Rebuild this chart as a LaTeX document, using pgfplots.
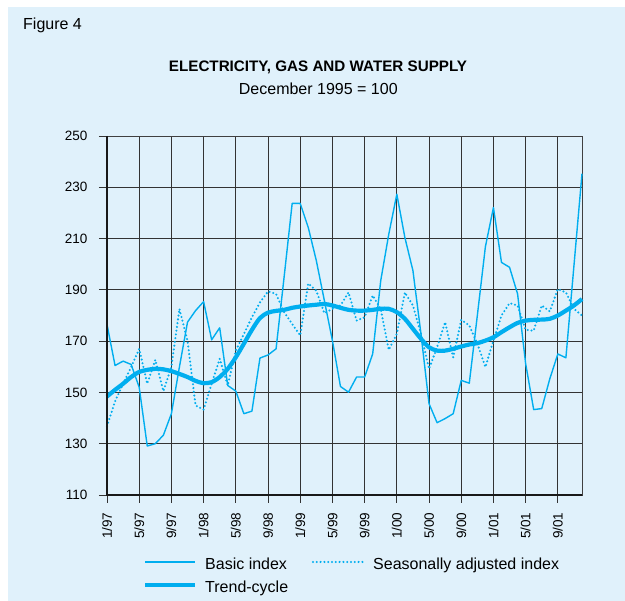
\documentclass[border=0pt]{standalone}
\usepackage{pgfplots}
\pgfplotsset{compat=1.18}
\usepackage{fontspec}
\setmainfont{Liberation Sans}
\definecolor{bgblue}{RGB}{224,241,251}
\definecolor{lineblue}{RGB}{0,174,239}
\begin{document}
\begin{tikzpicture}[x=1pt,y=1pt]
\fill[white] (0,0) rectangle (625,601);
\fill[bgblue] (8,0) rectangle (625,594);
\node[anchor=base west, inner sep=0pt, font=\fontsize{16}{18}\selectfont] at (23,571.7) {Figure 4};
\node[anchor=base, inner sep=0pt, font=\fontsize{15.2}{18}\selectfont\bfseries] at (318,529.3) {ELECTRICITY, GAS AND WATER SUPPLY};
\node[anchor=base, inner sep=0pt, font=\fontsize{16}{18}\selectfont] at (318.3,506.7) {December 1995 = 100};
\begin{axis}[at={(107pt,106pt)}, anchor=south west, scale only axis, width=475pt, height=359pt,
 xmin=0, xmax=59, ymin=110, ymax=250, clip=false,
 xtick={0,4,...,56}, xticklabels={1/97,5/97,9/97,1/98,5/98,9/98,1/99,5/99,9/99,1/00,5/00,9/00,1/01,5/01,9/01},
 ytick={110,130,...,250},
 grid=major, major grid style={black!80, line width=0.7pt},
 axis line style={black!75, line width=0.9pt},
 tick align=outside, major tick length=8pt, tick style={black!80, line width=0.7pt},
 xtick pos=bottom, ytick pos=left,
 /pgf/number format/assume math mode=true,
 ticklabel style={font=\fontsize{13.5}{15}\selectfont},
 yticklabel style={xshift=-8pt},
 xticklabel style={yshift=-6pt, rotate=90, anchor=east},
]
\addplot[lineblue, line width=1.4pt, line join=round] coordinates {
(0,176.5)(1,160.5)(2,162.2)(3,160.9)(4,152)(5,129.1)(6,130)(7,133.3)(8,141.7)(9,160)
(10,177.4)(11,181.9)(12,185.4)(13,170.5)(14,175.2)(15,152.7)(16,150.5)(17,141.7)(18,142.7)(19,163.4)
(20,164.6)(21,167)(22,195)(23,223.7)(24,223.7)(25,214.3)(26,201.4)(27,185.8)(28,170.2)(29,152.3)
(30,150.1)(31,156)(32,156)(33,165)(34,193.6)(35,211.7)(36,227.3)(37,210.4)(38,197.5)(39,172.8)
(40,145.6)(41,138.2)(42,139.8)(43,141.7)(44,154.7)(45,153.6)(46,180)(47,206.8)(48,222.1)(49,200.7)
(50,198.8)(51,188.4)(52,161.2)(53,143.3)(54,143.7)(55,155.3)(56,165)(57,163.5)(58,199.4)(59,235.3)
};
\addplot[lineblue, line width=2.3pt, line cap=round, dash pattern=on 0pt off 3.8pt] coordinates {
(0,136.8)(1,146.5)(2,153.4)(3,159.9)(4,167)(5,153.4)(6,162.7)(7,150.5)(8,159.9)(9,182.6)
(10,170.2)(11,144.9)(12,143.3)(13,153.4)(14,163.1)(15,152.7)(16,166.3)(17,172.8)(18,179.3)(19,185.1)
(20,189.4)(21,188.4)(22,181.3)(23,176.7)(24,172.2)(25,192.5)(26,189.7)(27,180.9)(28,182.6)(29,183.9)
(30,189)(31,178)(32,179.3)(33,187.8)(34,182.6)(35,166.6)(36,172.8)(37,189)(38,183.9)(39,172.8)
(40,159.2)(41,167.6)(42,177.4)(43,163.7)(44,178.3)(45,176.1)(46,169)(47,159.9)(48,170.2)(49,180)
(50,184.8)(51,183.9)(52,174.4)(53,174.1)(54,183.9)(55,181.6)(56,190.3)(57,189)(58,182.6)(59,180)
};
\addplot[lineblue, line width=4.2pt, line join=round, smooth] coordinates {
(0,148.4)(1,151)(2,153.4)(3,156)(4,158)(5,158.8)(6,159.2)(7,159)(8,158.3)(9,157.2)
(10,156)(11,154.5)(12,153.6)(13,154)(14,156)(15,159.2)(16,163.7)(17,169)(18,174.4)(19,179)
(20,181.1)(21,181.8)(22,182.2)(23,183)(24,183.5)(25,183.9)(26,184.2)(27,184.5)(28,183.9)(29,183)
(30,182.2)(31,181.9)(32,181.9)(33,182.2)(34,182.6)(35,182.6)(36,181.3)(37,178.7)(38,174.8)(39,170.9)
(40,167.6)(41,166.3)(42,166.3)(43,167)(44,167.9)(45,168.7)(46,169.2)(47,170.2)(48,171.5)(49,173.5)
(50,175.4)(51,177.1)(52,178)(53,178.3)(54,178.4)(55,178.7)(56,180)(57,181.9)(58,183.9)(59,186.4)
};
\draw[black!90, line width=2pt] (axis cs:0,250) -- (axis cs:0,110) -- (axis cs:59,110);
\end{axis}
\draw[lineblue, line width=1.4pt] (145,39) -- (195,39);
\node[anchor=base west, inner sep=0pt, font=\fontsize{16}{18}\selectfont] at (205,31) {Basic index};
\draw[lineblue, line width=2.3pt, line cap=round, dash pattern=on 0pt off 3.8pt] (313,39) -- (363,39);
\node[anchor=base west, inner sep=0pt, font=\fontsize{16}{18}\selectfont] at (373,31) {Seasonally adjusted index};
\draw[lineblue, line width=4.2pt] (145,16) -- (195,16);
\node[anchor=base west, inner sep=0pt, font=\fontsize{16}{18}\selectfont] at (205,8.3) {Trend-cycle};
\end{tikzpicture}
\end{document}
